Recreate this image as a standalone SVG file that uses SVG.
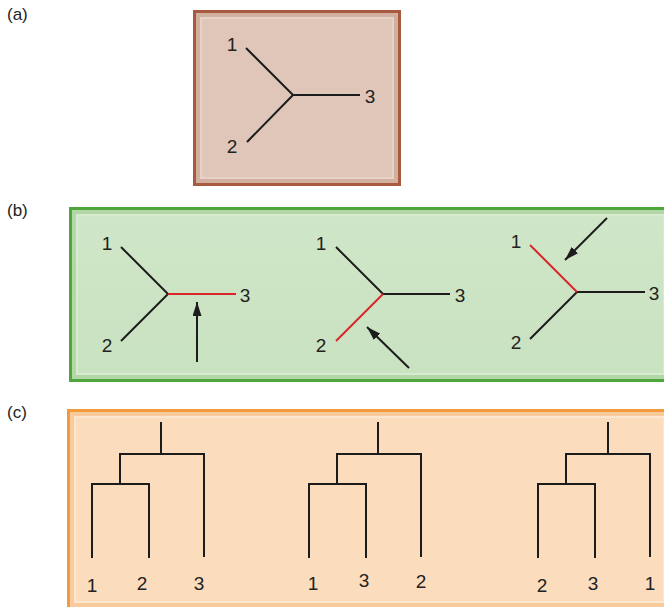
<svg xmlns="http://www.w3.org/2000/svg" width="664" height="607" viewBox="0 0 664 607">
<style>
.ln{stroke:#1c1c1c;stroke-width:2;fill:none;stroke-linecap:butt}
.rd{stroke:#d9252b;stroke-width:2;fill:none}
.lb{font-family:"Liberation Sans",Arial,sans-serif;font-size:19px;fill:#222;text-anchor:middle}
.pl{font-family:"Liberation Sans",Arial,sans-serif;font-size:17px;fill:#222}
</style>
<defs>
<marker id="ah" viewBox="0 0 14 9" refX="14" refY="4.5" markerWidth="7" markerHeight="4.5" orient="auto" markerUnits="strokeWidth">
<path d="M0,0 L14,4.5 L0,9 Z" fill="#1c1c1c"/>
</marker>
<linearGradient id="gb" x1="0" y1="0" x2="0" y2="1">
<stop offset="0" stop-color="#d0e6c8"/><stop offset="1" stop-color="#c9e2c0"/>
</linearGradient>
</defs>
<rect width="664" height="607" fill="#fff"/>
<text class="pl" x="7" y="20">(a)</text>
<text class="pl" x="7" y="216">(b)</text>
<text class="pl" x="7" y="418">(c)</text>

<g id="panel-a">
<rect x="193" y="10" width="208" height="176" fill="#a85a40"/>
<rect x="196" y="13" width="202" height="170" fill="#d2b09f"/>
<rect x="201" y="18" width="192" height="160" fill="#dfc6b8" stroke="#e6d2c6" stroke-width="2"/>
</g>
<g id="panel-b">
<rect x="69" y="207" width="595" height="175" fill="#4ea63c"/>
<rect x="72" y="210" width="592" height="169" fill="#b2d8a8"/>
<rect x="77" y="215" width="587" height="159" fill="url(#gb)" stroke="#d8ebd2" stroke-width="2"/>
</g>
<g id="panel-c">
<rect x="67" y="409" width="597" height="198" fill="#f39a3c"/>
<rect x="70" y="412" width="594" height="195" fill="#f8cb9c"/>
<rect x="75" y="417" width="589" height="185" fill="#fbdcbd" stroke="#fde6cf" stroke-width="2"/>
</g>

<g id="tree-a">
<polyline class="ln" points="246,48 293,95 360,95"/>
<line class="ln" x1="293" y1="95" x2="247" y2="142"/>
<text class="lb" x="232" y="51">1</text>
<text class="lb" x="370" y="103">3</text>
<text class="lb" x="232" y="153">2</text>
</g>

<g id="tree-b1">
<polyline class="ln" points="121,247 168,294 121,341"/>
<line class="rd" x1="168" y1="294" x2="236" y2="294"/>
<text class="lb" x="107" y="250">1</text>
<text class="lb" x="245" y="302">3</text>
<text class="lb" x="107" y="352">2</text>
</g>
<g id="tree-b2">
<polyline class="ln" points="336,247 383,294 450,294"/>
<line class="rd" x1="383" y1="294" x2="336" y2="341"/>
<text class="lb" x="321" y="250">1</text>
<text class="lb" x="460" y="302">3</text>
<text class="lb" x="321" y="352">2</text>
</g>
<g id="tree-b3">
<polyline class="ln" points="645,292 577,292 530,339"/>
<line class="rd" x1="530" y1="245" x2="577" y2="292"/>
<text class="lb" x="516" y="248">1</text>
<text class="lb" x="654" y="300">3</text>
<text class="lb" x="516" y="349">2</text>
</g>

<g id="tree-c1">
<polyline class="ln" points="161,422 161,454"/>
<polyline class="ln" points="120,484 120,454 204,454 204,557"/>
<polyline class="ln" points="92,558 92,484 149,484 149,558"/>
<text class="lb" x="92" y="592">1</text>
<text class="lb" x="142" y="590">2</text>
<text class="lb" x="199" y="590">3</text>
</g>
<g id="tree-c2">
<polyline class="ln" points="378,422 378,454"/>
<polyline class="ln" points="337,484 337,454 421,454 421,557"/>
<polyline class="ln" points="309,558 309,484 366,484 366,558"/>
<text class="lb" x="313" y="590">1</text>
<text class="lb" x="364" y="587">3</text>
<text class="lb" x="421" y="588">2</text>
</g>
<g id="tree-c3">
<polyline class="ln" points="608,422 608,454"/>
<polyline class="ln" points="566,484 566,454 650,454 650,557"/>
<polyline class="ln" points="538,558 538,484 595,484 595,558"/>
<text class="lb" x="542" y="592">2</text>
<text class="lb" x="593" y="590">3</text>
<text class="lb" x="650" y="590">1</text>
</g>

<g id="connectors">
<line class="ln" x1="197" y1="362" x2="197" y2="302" marker-end="url(#ah)"/>
<line class="ln" x1="409" y1="368" x2="367" y2="327" marker-end="url(#ah)"/>
<line class="ln" x1="607" y1="218" x2="565" y2="260" marker-end="url(#ah)"/>
</g>
</svg>
